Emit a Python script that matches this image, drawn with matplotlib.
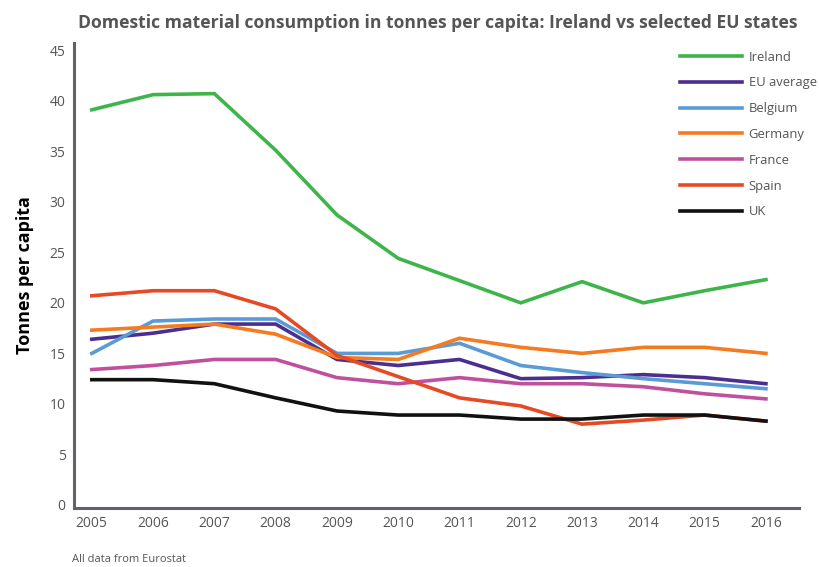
import matplotlib
matplotlib.use("Agg")
import matplotlib.pyplot as plt

years = [2005, 2006, 2007, 2008, 2009, 2010, 2011, 2012, 2013, 2014, 2015, 2016]
ireland = [39.1, 40.6, 40.7, 35.1, 28.7, 24.4, 22.2, 20.0, 22.1, 20.0, 21.2, 22.3]
eu_average = [16.4, 17.0, 17.9, 17.9, 14.4, 13.8, 14.4, 12.5, 12.6, 12.9, 12.6, 12.0]
belgium = [15.0, 18.2, 18.4, 18.4, 15.0, 15.0, 16.0, 13.8, 13.1, 12.5, 12.0, 11.5]
germany = [17.3, 17.6, 17.9, 16.9, 14.6, 14.4, 16.5, 15.6, 15.0, 15.6, 15.6, 15.0]
france = [13.4, 13.8, 14.4, 14.4, 12.6, 12.0, 12.6, 12.0, 12.0, 11.7, 11.0, 10.5]
spain = [20.7, 21.2, 21.2, 19.4, 14.8, 12.7, 10.6, 9.8, 8.0, 8.4, 8.9, 8.3]
uk = [12.4, 12.4, 12.0, 10.6, 9.3, 8.9, 8.9, 8.5, 8.5, 8.9, 8.9, 8.3]

series = [
    ("Ireland", ireland, "#3db54a"),
    ("EU average", eu_average, "#4b2e8f"),
    ("Belgium", belgium, "#5b9bd5"),
    ("Germany", germany, "#f47b20"),
    ("France", france, "#c0509e"),
    ("Spain", spain, "#e64a24"),
    ("UK", uk, "#111111"),
]

plt.rcParams['font.family'] = ['Open Sans', 'DejaVu Sans']

fig = plt.figure(figsize=(8.19, 5.67), dpi=100)
ax = fig.add_axes([0.0904, 0.104, 0.8852, 0.820])

for name, vals, col in series:
    ax.plot(years, vals, color=col, lw=2.6, label=name, solid_joinstyle='miter')

ax.set_xlim(2004.71, 2016.54)
ax.set_ylim(-0.3, 45.7)
ax.set_yticks(range(0, 46, 5))
ax.set_xticks(years)
ax.tick_params(length=0, labelsize=10, colors="#555555", pad=6)
for s in ["top", "right"]:
    ax.spines[s].set_visible(False)
for s in ["left", "bottom"]:
    ax.spines[s].set_color("#5f6368")
    ax.spines[s].set_linewidth(2.2)

ax.set_ylabel("Tonnes per capita", fontsize=13, fontweight="bold", color="black", labelpad=11)

fig.text(0.534, 0.960, "Domestic material consumption in tonnes per capita: Ireland vs selected EU states",
         ha="center", va="center", fontsize=12.6, fontweight="bold", color="#555555")
fig.text(0.088, 0.009, "All data from Eurostat", fontsize=8, color="#555555", ha="left", va="baseline")

leg = ax.legend(loc="upper left", bbox_to_anchor=(0.819, 1.009), frameon=False, fontsize=9.4,
                handlelength=4.8, labelspacing=0.98, handletextpad=0.5)
for t in leg.get_texts():
    t.set_color("#555555")

fig.savefig("out.png", dpi=100)
